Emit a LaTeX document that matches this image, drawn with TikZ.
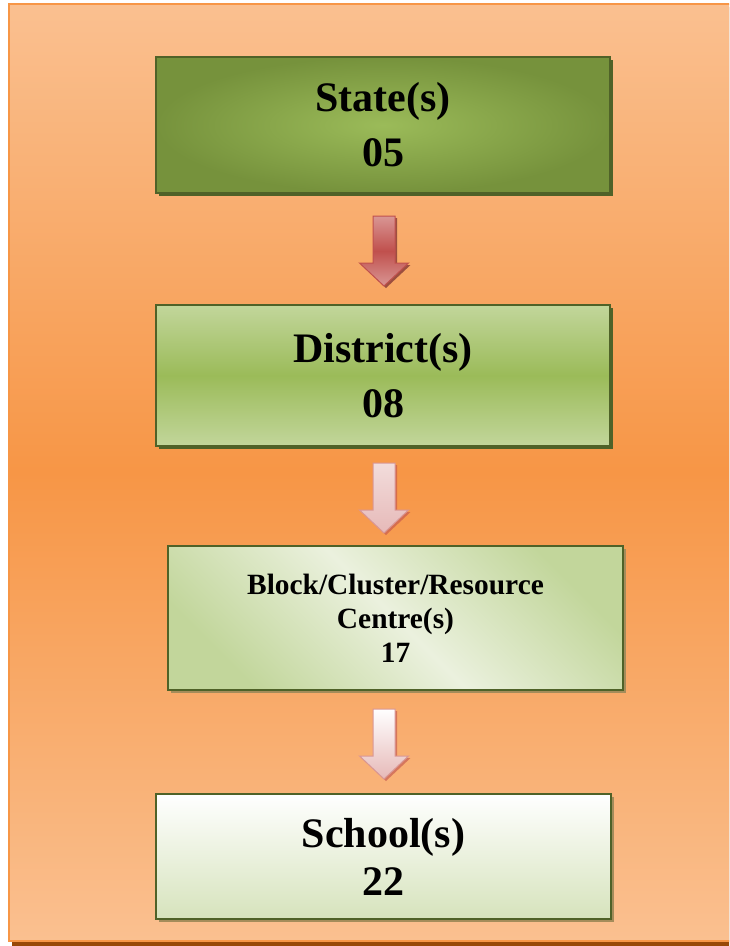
\documentclass[tikz,border=0pt]{standalone}
\usepackage{fontspec}
\setmainfont{Liberation Serif}
\usetikzlibrary{calc,shadows}

\definecolor{peach}{HTML}{FAC090}
\definecolor{deeporange}{HTML}{F79646}
\definecolor{framebrown}{HTML}{984807}
\definecolor{olivedark}{HTML}{4F6228}
\definecolor{olive}{HTML}{76923C}
\definecolor{leaf}{HTML}{9BBB59}
\definecolor{leaflt}{HTML}{C2D69B}
\definecolor{leafpale}{HTML}{EBF1DE}
\definecolor{leafwash}{HTML}{D6E3BC}
\definecolor{shadowtan}{HTML}{A48C5A}
\definecolor{rosedark}{HTML}{C0504D}
\definecolor{rose}{HTML}{D99694}
\definecolor{roselt}{HTML}{E6B9B8}
\definecolor{rosepale}{HTML}{F2DCDB}

\tikzset{
  levelbox/.style={draw=olivedark, line width=1.5pt, inner sep=0pt, align=center},
  bigtext/.style={font=\bfseries\fontsize{42}{55}\selectfont},
  greenshadow/.style={drop shadow={shadow xshift=3pt, shadow yshift=-3pt, fill=olivedark, opacity=1}},
  tanshadow/.style={drop shadow={shadow xshift=3pt, shadow yshift=-3pt, fill=shadowtan, opacity=1}},
  arrowred/.style={draw=rosedark, line width=1pt, top color=rose, bottom color=rose, middle color=rosedark,
    drop shadow={shadow xshift=2pt, shadow yshift=-2pt, fill=rosedark!70!black, opacity=.8}},
  arrowpink/.style={draw=rose, line width=1pt, top color=rosepale, bottom color=roselt,
    drop shadow={shadow xshift=2pt, shadow yshift=-2pt, fill=rosedark, opacity=.6}},
  arrowpale/.style={draw=rose, line width=1pt, top color=white, bottom color=roselt,
    drop shadow={shadow xshift=2pt, shadow yshift=-2pt, fill=rosedark, opacity=.6}}
}

% block arrow between two boxes: #1 from, #2 to, #3 style
\newcommand{\levelarrow}[3]{%
  \coordinate (mid) at ($(#1.south -| axis)!.5!(#2.north -| axis)+(0,2)$);
  \coordinate (a1) at ($(mid)+(0,-35)$);
  \coordinate (a2) at ($(mid)+(0,35)$);
  \draw[#3] ($(a1)+(-11,0)$) -- ($(a1)+(11,0)$) -- ($(a2)+(11,-23)$) -- ($(a2)+(24.5,-23)$)
    -- (a2) -- ($(a2)+(-24.5,-23)$) -- ($(a2)+(-11,-23)$) -- cycle;
}

\begin{document}
\begin{tikzpicture}[x=1pt,y=-1pt]
  \useasboundingbox (0,0) rectangle (729,946);
  \clip (0,0) rectangle (729,946);

  \fill[framebrown] (12,7) rectangle (744,946);
  \draw[draw=deeporange, line width=2.5pt, top color=peach, bottom color=peach, middle color=deeporange]
    (9,4) rectangle (741,941);

  \coordinate (axis) at (384,0);

  \node[levelbox, bigtext, greenshadow, inner color=leaf, outer color=olive,
    minimum width=454pt, minimum height=136pt] (state) at (383,125) {State(s)\\05};

  \node[levelbox, bigtext, greenshadow, top color=leaflt, bottom color=leaflt, middle color=leaf,
    minimum width=454pt, minimum height=141pt] (district) at (383,375.5) {District(s)\\08};

  \node[levelbox, tanshadow, top color=leaflt, bottom color=leaflt, middle color=leafpale, shading angle=-45,
    font=\bfseries\fontsize{29.4}{34}\selectfont,
    minimum width=455pt, minimum height=144pt] (block) at (395.5,618) {Block/Cluster/Resource\\Centre(s)\\17};

  \node[levelbox, tanshadow, top color=white, bottom color=leafwash,
    font=\bfseries\fontsize{42}{48}\selectfont,
    minimum width=455pt, minimum height=125pt] (school) at (383.5,856.5) {School(s)\\22};

  \levelarrow{state}{district}{arrowred}
  \levelarrow{district}{block}{arrowpink}
  \levelarrow{block}{school}{arrowpale}
\end{tikzpicture}
\end{document}
